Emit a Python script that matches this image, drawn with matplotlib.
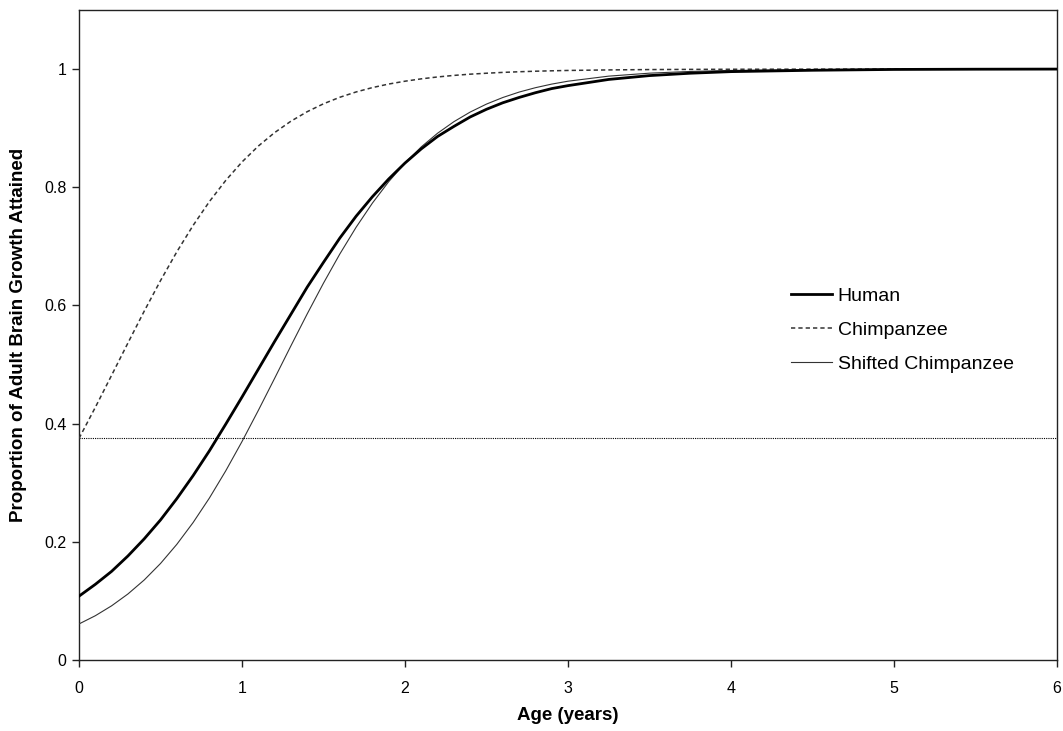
import matplotlib.pyplot as plt

plt.rcParams['font.family'] = ['Liberation Sans', 'DejaVu Sans']

# age in years
age = [0, 0.1, 0.2, 0.3, 0.4, 0.5, 0.6, 0.7, 0.8, 0.9,
       1.0, 1.1, 1.2, 1.3, 1.4, 1.5, 1.6, 1.7, 1.8, 1.9,
       2.0, 2.1, 2.2, 2.3, 2.4, 2.5, 2.6, 2.7, 2.8, 2.9,
       3.0, 3.25, 3.5, 3.75, 4.0, 4.5, 5.0, 5.5, 6.0]

human = [0.108, 0.128, 0.150, 0.176, 0.205, 0.237, 0.273, 0.312, 0.354, 0.399,
         0.445, 0.492, 0.539, 0.585, 0.631, 0.673, 0.714, 0.751, 0.784, 0.814,
         0.841, 0.865, 0.886, 0.903, 0.919, 0.932, 0.943, 0.952, 0.960, 0.967,
         0.972, 0.9825, 0.989, 0.993, 0.9957, 0.998, 0.9994, 0.9998, 1.0]

chimp = [0.375, 0.4275, 0.4818, 0.5364, 0.5903, 0.642, 0.6907, 0.7354, 0.7758, 0.8115,
         0.8428, 0.8697, 0.8925, 0.9118, 0.9279, 0.9413, 0.9523, 0.9613, 0.9687, 0.9747,
         0.9795, 0.9835, 0.9867, 0.9893, 0.9914, 0.993, 0.9944, 0.9955, 0.9964, 0.9971,
         0.9977, 0.9986, 0.9992, 0.9995, 0.9997, 0.9999, 1.0, 1.0, 1.0]

shifted = [0.061, 0.0749, 0.0917, 0.1117, 0.1354, 0.1633, 0.1957, 0.2326, 0.2741, 0.32,
           0.3697, 0.4223, 0.4766, 0.5316, 0.5857, 0.6378, 0.687, 0.7323, 0.7732, 0.8095,
           0.8411, 0.8684, 0.8915, 0.911, 0.9273, 0.9408, 0.9519, 0.9611, 0.9685, 0.9746,
           0.9795, 0.9881, 0.9931, 0.996, 0.9977, 0.9992, 0.9997, 0.9999, 1.0]

chimp_birth = 0.375  # chimp proportion at birth (reference line)

fig = plt.figure(figsize=(10.63, 7.31), dpi=100)
ax = fig.add_axes([79 / 1063, 71 / 731, 978 / 1063, 650 / 731])

ax.plot(age, human, color='black', lw=2.0, label='Human', zorder=4)
ax.plot(age, chimp, color='#333333', lw=1.1, dashes=(2.8, 2.0), label='Chimpanzee', zorder=3)
ax.plot(age, shifted, color='#333333', lw=0.8, label='Shifted Chimpanzee', zorder=3)
ax.axhline(chimp_birth, color='black', lw=0.8, dashes=(1.0, 1.0), zorder=2)

ax.set_xlim(0, 6)
ax.set_ylim(0, 1.1)
ax.set_xticks([0, 1, 2, 3, 4, 5, 6])
ax.set_xticklabels(['0', '1', '2', '3', '4', '5', '6'])
ax.set_yticks([0, 0.2, 0.4, 0.6, 0.8, 1.0])
ax.set_yticklabels(['0', '0.2', '0.4', '0.6', '0.8', '1'])
ax.tick_params(direction='out', length=5, width=1, labelsize=11.5, color='#222222', pad=4)
ax.tick_params(axis='x', pad=10)
for s in ax.spines.values():
    s.set_linewidth(1.0)
    s.set_color('#222222')

ax.set_xlabel('Age (years)', fontsize=13.5, fontweight='bold', labelpad=8)
ax.set_ylabel('Proportion of Adult Brain Growth Attained', fontsize=13.5, fontweight='bold', labelpad=12)

ax.legend(loc='upper left', bbox_to_anchor=(791 / 1063, (731 - 287) / 731),
          bbox_transform=fig.transFigure, frameon=False, fontsize=14,
          handlelength=2.1, handletextpad=0.3, labelspacing=0.85,
          borderpad=0, borderaxespad=0)

fig.savefig('out.png', dpi=100)
